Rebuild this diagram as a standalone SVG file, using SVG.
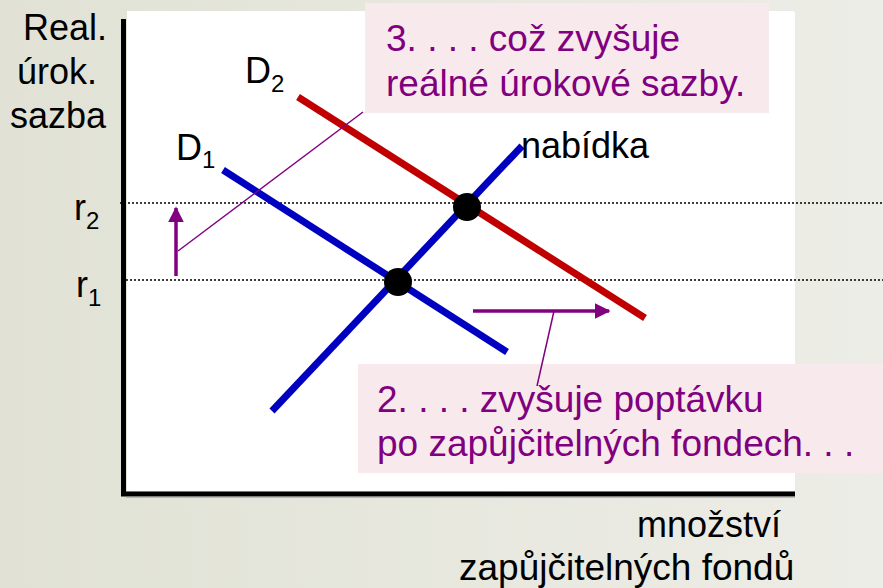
<svg xmlns="http://www.w3.org/2000/svg" width="883" height="588" viewBox="0 0 883 588">
<defs>
<linearGradient id="bg" x1="0" y1="0" x2="1" y2="0">
<stop offset="0" stop-color="#e1e2d5"/>
<stop offset="1" stop-color="#edede7"/>
</linearGradient>
<marker id="ah" viewBox="0 0 10 10" refX="9" refY="5" markerWidth="4.5" markerHeight="4.5" orient="auto" markerUnits="strokeWidth">
<path d="M0,0 L10,5 L0,10 Z" fill="#800080"/>
</marker>
<style>
text{font-family:"Liberation Sans",Arial,sans-serif;font-size:36px;fill:#000}
.sub{font-size:24px}
.call{fill:#800080;font-size:37px}
.box{fill:#f8eaec}
.dot{stroke:#000;stroke-width:1.5;stroke-dasharray:2 2;fill:none}
.curve{stroke-width:7;fill:none}
.lead{stroke:#800080;stroke-width:1.5;fill:none}
.arr{stroke:#800080;stroke-width:3.5;fill:none}
</style>
</defs>
<rect x="0" y="0" width="883" height="588" fill="url(#bg)"/>
<path d="M127,11 H792 Q795,11 795,14 V491 H127 Z" fill="#fff"/>
<g id="axes">
<line x1="123.5" y1="19" x2="123.5" y2="496" stroke="#000" stroke-width="5"/>
<line x1="121" y1="494" x2="795" y2="494" stroke="#000" stroke-width="5"/>
<line x1="126" y1="497" x2="795" y2="497" stroke="#8a8a8a" stroke-width="1"/>
</g>
<g id="axis-labels">
<text x="23" y="40">Real.</text>
<text x="17" y="84">úrok.</text>
<text x="10" y="128">sazba</text>
<text x="637" y="537">množství</text>
<text x="459" y="580" style="font-size:37px">zapůjčitelných fondů</text>
</g>
<g id="rate-lines">
<line class="dot" x1="120" y1="203" x2="883" y2="203"/>
<line class="dot" x1="126" y1="280" x2="883" y2="280"/>
<text x="74" y="220">r<tspan class="sub" dy="9">2</tspan></text>
<text x="76" y="297">r<tspan class="sub" dy="9">1</tspan></text>
</g>
<g id="supply">
<line class="curve" stroke="#0000c0" x1="272" y1="411" x2="522" y2="146"/>
<text x="521" y="158">nabídka</text>
</g>
<g id="demand1">
<line class="curve" stroke="#0000c0" x1="223" y1="170" x2="507" y2="352"/>
<text x="176" y="160">D<tspan class="sub" dy="8">1</tspan></text>
</g>
<g id="demand2">
<line class="curve" stroke="#c00000" x1="298" y1="97" x2="645" y2="318"/>
<text x="245" y="83">D<tspan class="sub" dy="9">2</tspan></text>
</g>
<g id="equilibria">
<circle cx="398" cy="282" r="14" fill="#000"/>
<circle cx="467" cy="207" r="14" fill="#000"/>
</g>
<g id="callout3">
<rect class="box" x="365" y="3" width="404" height="110"/>
<text class="call" x="386" y="51">3. . . . což zvyšuje</text>
<text class="call" x="386" y="96">reálné úrokové sazby.</text>
</g>
<g id="callout2">
<rect class="box" x="358" y="364" width="525" height="109"/>
<text class="call" x="377" y="412">2. . . . zvyšuje poptávku</text>
<text class="call" x="377" y="456">po zapůjčitelných fondech. . .</text>
</g>
<g id="connectors">
<line class="lead" x1="363" y1="112" x2="178" y2="251"/>
<line class="arr" x1="176" y1="276" x2="176" y2="208" marker-end="url(#ah)"/>
<line class="lead" x1="554" y1="311" x2="537" y2="386"/>
<line class="arr" x1="473" y1="311" x2="609" y2="311" marker-end="url(#ah)"/>
</g>
</svg>
